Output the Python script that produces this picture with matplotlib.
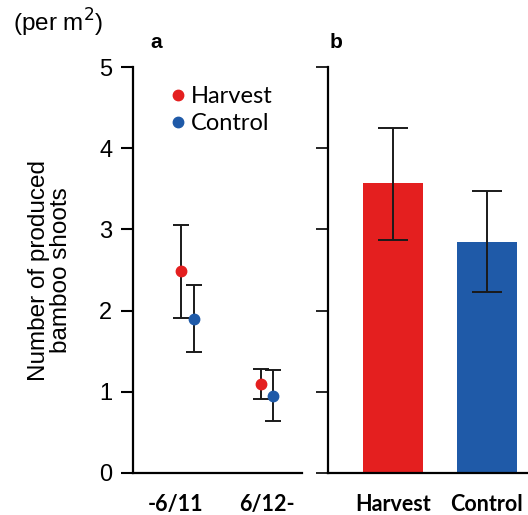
import matplotlib
matplotlib.use("Agg")
import matplotlib.pyplot as plt
from matplotlib.lines import Line2D

periods = ["-6/11", "6/12-"]
harvest_mean = [2.49, 1.10]
harvest_lo = [1.91, 0.91]
harvest_hi = [3.05, 1.28]
control_mean = [1.90, 0.95]
control_lo = [1.49, 0.64]
control_hi = [2.32, 1.27]

treatments = ["Harvest", "Control"]
total_mean = [3.57, 2.85]
total_lo = [2.87, 2.23]
total_hi = [4.25, 3.48]

yticks = [0, 1, 2, 3, 4, 5]

RED = "#e41f1f"
BLUE = "#1f5aa8"
ECOL = "#1a1a1a"

fig = plt.figure(figsize=(5.28, 5.15), dpi=100)
axa = fig.add_axes([0.252, 0.0816, 0.320, 0.788])
axb = fig.add_axes([0.621, 0.0816, 0.379, 0.788])

num_font = "Liberation Sans"
cal_font = "Lato"

# panel a
xs = list(range(len(periods)))
off = 0.08
hx = [x - off for x in xs]
cx = [x + off for x in xs]
axa.errorbar(hx, harvest_mean,
             yerr=[[m - l for m, l in zip(harvest_mean, harvest_lo)],
                   [h - m for m, h in zip(harvest_mean, harvest_hi)]],
             fmt="o", color=RED, ecolor=ECOL, elinewidth=1.4, capsize=5.5,
             capthick=1.4, markersize=7.5, zorder=3)
axa.errorbar(cx, control_mean,
             yerr=[[m - l for m, l in zip(control_mean, control_lo)],
                   [h - m for m, h in zip(control_mean, control_hi)]],
             fmt="o", color=BLUE, ecolor=ECOL, elinewidth=1.4, capsize=5.5,
             capthick=1.4, markersize=7.5, zorder=3)
axa.set_xlim(-0.68, 1.44)
axa.set_ylim(0, 5)
axa.set_yticks(yticks)
axa.set_yticklabels([str(t) for t in yticks], fontsize=17, family=num_font)
axa.set_xticks([-0.15, 1.0])
axa.set_xticklabels(periods, fontsize=15.5, family=cal_font, fontweight="bold")
axa.tick_params(axis="x", length=0, pad=15)
axa.tick_params(axis="y", length=9, width=1.5, pad=6)
for s in ["top", "right"]:
    axa.spines[s].set_visible(False)
for s in ["left", "bottom"]:
    axa.spines[s].set_linewidth(1.6)
axa.set_ylabel("Number of produced\nbamboo shoots", fontsize=17.5, family=num_font,
               linespacing=1.0)
axa.yaxis.set_label_coords(-0.36, 0.5)
handles = [Line2D([], [], marker="o", color=RED, linestyle="none", markersize=7.5),
           Line2D([], [], marker="o", color=BLUE, linestyle="none", markersize=7.5)]
axa.legend(handles, treatments, loc="upper left", bbox_to_anchor=(0.07, 1.005),
           frameon=False, handletextpad=0.05, handlelength=1.0, labelspacing=0.25,
           prop={"family": cal_font, "size": 17})

# panel b
bx = list(range(len(treatments)))
axb.bar(bx, total_mean, width=0.64, color=[RED, BLUE],
        yerr=[[m - l for m, l in zip(total_mean, total_lo)],
              [h - m for m, h in zip(total_mean, total_hi)]],
        error_kw=dict(ecolor=ECOL, elinewidth=1.4, capsize=11, capthick=1.4))
axb.set_xlim(-0.69, 1.44)
axb.set_ylim(0, 5)
axb.set_yticks(yticks)
axb.set_yticklabels([])
axb.set_xticks(bx)
axb.set_xticklabels(treatments, fontsize=15.5, family=cal_font, fontweight="bold")
axb.tick_params(axis="x", length=0, pad=15)
axb.tick_params(axis="y", length=9, width=1.2)
for s in ["top", "right"]:
    axb.spines[s].set_visible(False)
for s in ["left", "bottom"]:
    axb.spines[s].set_linewidth(1.6)

fig.text(0.025, 0.955, "(per m$^2$)", fontsize=17.5, family=num_font, va="center")
fig.text(0.285, 0.917, "a", fontsize=15, family=num_font, fontweight="bold", va="center")
fig.text(0.625, 0.917, "b", fontsize=15, family=num_font, fontweight="bold", va="center")

fig.savefig("out.png", dpi=100)
